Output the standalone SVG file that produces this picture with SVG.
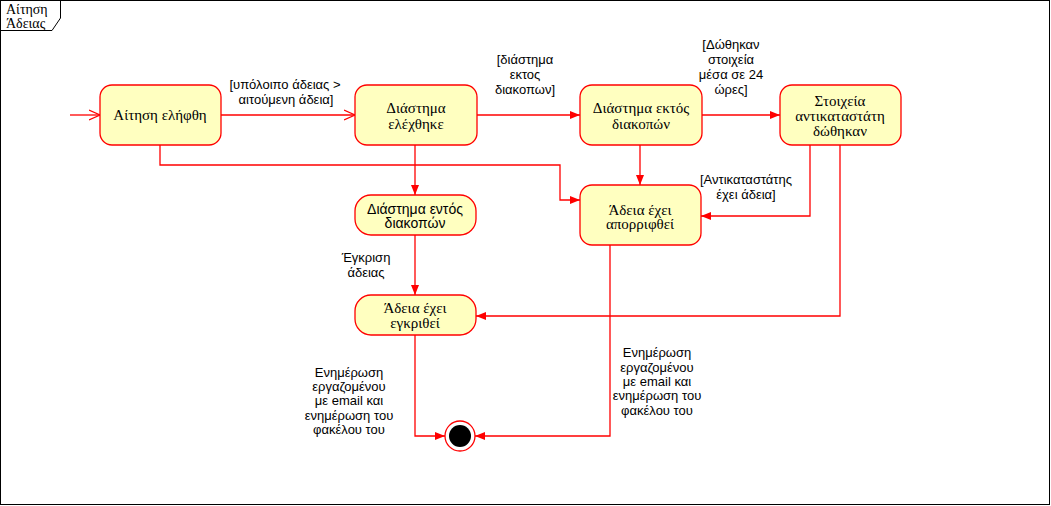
<svg xmlns="http://www.w3.org/2000/svg" width="1051" height="506" viewBox="0 0 1051 506">
<defs>
<marker id="fill" viewBox="0 0 10 10" refX="10" refY="5" markerWidth="10" markerHeight="10" markerUnits="userSpaceOnUse" orient="auto">
<path d="M0,1 L10,5 L0,9 Z" fill="#ff0000"/>
</marker>
<marker id="open" viewBox="0 0 12 12" refX="11" refY="6" markerWidth="12" markerHeight="12" markerUnits="userSpaceOnUse" orient="auto">
<path d="M0,1 L11,6 L0,11" fill="none" stroke="#ff0000" stroke-width="1.2"/>
</marker>
</defs>
<style>
.st{fill:#ffffc0;stroke:#ff0000;stroke-width:1.3}
.ln{fill:none;stroke:#ff0000;stroke-width:1.3}
.nt{font-family:"Liberation Serif","Noto Sans",serif;font-size:15px;fill:#000;text-anchor:middle}
.ns{font-family:"Liberation Sans","Noto Sans",sans-serif;font-size:14px;fill:#000;text-anchor:middle}
.lb{font-family:"Liberation Sans","Noto Sans",sans-serif;font-size:13px;fill:#000;text-anchor:middle}
.ft{font-family:"Liberation Serif","Noto Sans",serif;font-size:14px;fill:#000}
</style>
<rect x="0" y="0" width="1051" height="506" fill="#ffffff"/>
<g id="frame">
<rect x="0.5" y="0.5" width="1049" height="504" fill="none" stroke="#000" stroke-width="1"/>
<path d="M0.5,30.5 L52,30.5 L60.5,18 L60.5,0.5" fill="none" stroke="#000" stroke-width="1"/>
<text class="ft" x="6" y="14">Αίτηση</text>
<text class="ft" x="6" y="28">Άδειας</text>
</g>
<g id="connectors">
<line class="ln" x1="70" y1="115" x2="100" y2="115" marker-end="url(#open)"/>
<line class="ln" x1="221" y1="115" x2="355" y2="115" marker-end="url(#open)"/>
<line class="ln" x1="477" y1="115" x2="580" y2="115" marker-end="url(#fill)"/>
<line class="ln" x1="702" y1="115" x2="780" y2="115" marker-end="url(#fill)"/>
<polyline class="ln" points="160,145 160,165 560,165 560,200 580,200" marker-end="url(#fill)"/>
<line class="ln" x1="415" y1="145" x2="415" y2="195" marker-end="url(#fill)"/>
<line class="ln" x1="640" y1="145" x2="640" y2="185" marker-end="url(#fill)"/>
<polyline class="ln" points="810,145 810,216 701,216" marker-end="url(#fill)"/>
<polyline class="ln" points="840,145 840,316 476,316" marker-end="url(#fill)"/>
<line class="ln" x1="415" y1="235" x2="415" y2="295" marker-end="url(#fill)"/>
<polyline class="ln" points="415,335 415,436 445,436" marker-end="url(#fill)"/>
<polyline class="ln" points="610,245 610,436 475,436" marker-end="url(#fill)"/>
<text class="lb" x="285" y="89">[υπόλοιπο άδειας &gt;</text>
<text class="lb" x="286" y="104">αιτούμενη άδεια]</text>
<text class="lb" x="525" y="64">[διάστημα</text>
<text class="lb" x="525" y="79">εκτος</text>
<text class="lb" x="525" y="94">διακοπων]</text>
<text class="lb" x="731" y="49">[Δώθηκαν</text>
<text class="lb" x="731" y="64">στοιχεία</text>
<text class="lb" x="731" y="79">μέσα σε 24</text>
<text class="lb" x="731" y="94">ώρες]</text>
<text class="lb" x="746" y="184">[Αντικαταστάτης</text>
<text class="lb" x="746" y="199">έχει άδεια]</text>
<text class="lb" x="366" y="262">Έγκριση</text>
<text class="lb" x="366" y="277">άδειας</text>
<text class="lb" x="349" y="377">Ενημέρωση</text>
<text class="lb" x="349" y="391">εργαζομένου</text>
<text class="lb" x="349" y="405">με email και</text>
<text class="lb" x="349" y="420">ενημέρωση του</text>
<text class="lb" x="349" y="434">φακέλου του</text>
<text class="lb" x="657" y="357">Ενημέρωση</text>
<text class="lb" x="657" y="372">εργαζομένου</text>
<text class="lb" x="657" y="386">με email και</text>
<text class="lb" x="657" y="400">ενημέρωση του</text>
<text class="lb" x="657" y="415">φακέλου του</text>
</g>
<g id="n1">
<rect class="st" x="100" y="85" width="121" height="60" rx="12"/>
<text class="nt" x="160" y="120">Αίτηση ελήφθη</text>
</g>
<g id="n2">
<rect class="st" x="355" y="85" width="122" height="60" rx="12"/>
<text class="nt" x="416" y="113">Διάστημα</text>
<text class="nt" x="416" y="129">ελέχθηκε</text>
</g>
<g id="n3">
<rect class="st" x="580" y="85" width="122" height="60" rx="12"/>
<text class="nt" x="641" y="113">Διάστημα εκτός</text>
<text class="nt" x="641" y="129">διακοπών</text>
</g>
<g id="n4">
<rect class="st" x="780" y="85" width="121" height="60" rx="12"/>
<text class="nt" x="840" y="106">Στοιχεία</text>
<text class="nt" x="840" y="121">αντικαταστάτη</text>
<text class="nt" x="840" y="136">δώθηκαν</text>
</g>
<g id="n5">
<rect class="st" x="355" y="195" width="121" height="40" rx="16"/>
<text class="ns" x="415" y="214">Διάστημα εντός</text>
<text class="ns" x="415" y="228">διακοπών</text>
</g>
<g id="n6">
<rect class="st" x="580" y="185" width="121" height="60" rx="12"/>
<text class="nt" x="640" y="215">Άδεια έχει</text>
<text class="nt" x="640" y="229">απορριφθεί</text>
</g>
<g id="n7">
<rect class="st" x="355" y="295" width="121" height="40" rx="16"/>
<text class="nt" x="415" y="313">Άδεια έχει</text>
<text class="nt" x="415" y="328">εγκριθεί</text>
</g>
<g id="final">
<circle cx="460" cy="436" r="15" fill="#ffffff" stroke="#ff0000" stroke-width="1.3"/>
<circle cx="460" cy="436" r="11" fill="#000000"/>
</g>
</svg>
